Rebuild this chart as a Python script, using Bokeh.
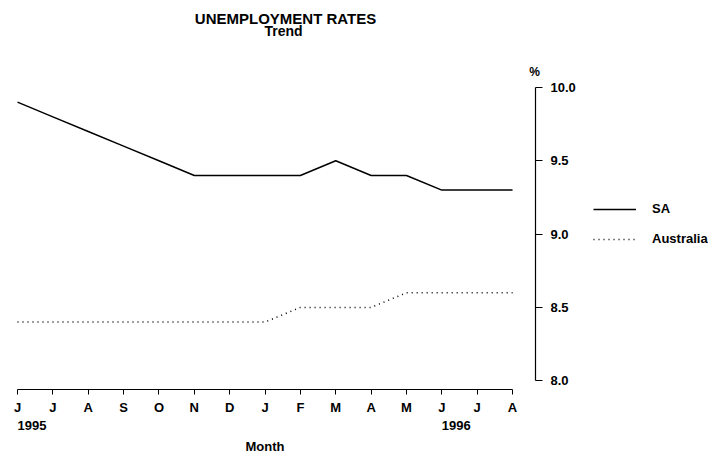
from bokeh.plotting import figure
from bokeh.models import (FixedTicker, LinearAxis, Range1d, Legend, LegendItem,
                          ColumnDataSource, Label)
from bokeh.embed import file_html
from bokeh.resources import INLINE

# ---- data ----
months = ["J", "J", "A", "S", "O", "N", "D", "J", "F", "M", "A", "M", "J", "J", "A"]
years = ["1995", "1996"]
year_pos = [0, 12]
sa = [9.9, 9.8, 9.7, 9.6, 9.5, 9.4, 9.4, 9.4, 9.4, 9.5, 9.4, 9.4, 9.3, 9.3, 9.3]
australia = [8.4, 8.4, 8.4, 8.4, 8.4, 8.4, 8.4, 8.4, 8.5, 8.5, 8.5, 8.6, 8.6, 8.6, 8.6]
y_ticks = [8.0, 8.5, 9.0, 9.5, 10.0]

FONT = "Liberation Sans"
INK = "black"
W, H = 708, 455
# layout (pixels): where month 0 and the 10.0 line sit, and scale
X0_PX, PX_PER_MONTH = 17, 35.36
Y10_PX, PX_PER_UNIT = 87, 146.6
x_start = -X0_PX / PX_PER_MONTH
x_end = (W - X0_PX) / PX_PER_MONTH
y_end = 10 + Y10_PX / PX_PER_UNIT
y_start = 10 - (H - Y10_PX) / PX_PER_UNIT
x_axis_y = 7.94          # where the month axis sits (a little below 8.0)
y_axis_x = 14.65         # where the % axis sits (right of the last month)

x = list(range(len(months)))
src = ColumnDataSource(dict(x=x, sa=sa, aus=australia))

p = figure(width=W, height=H, output_backend="svg", toolbar_location=None,
           x_range=Range1d(x_start, x_end), y_range=Range1d(y_start, y_end),
           x_axis_location=None, y_axis_location=None,
           min_border=0)
p.title = None
p.outline_line_color = None
p.xgrid.visible = False
p.ygrid.visible = False
p.background_fill_color = "white"
p.border_fill_color = "white"

r_sa = p.line("x", "sa", source=src, line_color=INK, line_width=1.5)
r_au = p.line("x", "aus", source=src, line_color=INK, line_width=1.5,
              line_dash="1 4")


def style_labels(ax):
    ax.major_label_text_font = FONT
    ax.major_label_text_font_size = "13px"
    ax.major_label_text_font_style = "bold"
    ax.major_label_text_color = INK
    ax.minor_tick_line_color = None
    ax.axis_line_color = INK
    ax.major_tick_line_color = INK


# month axis
xa = LinearAxis(ticker=FixedTicker(ticks=x), bounds=(0, len(months) - 1),
                fixed_location=x_axis_y, axis_label="Month",
                major_label_overrides={i: m for i, m in enumerate(months)})
style_labels(xa)
xa.major_tick_in = 0
xa.major_tick_out = 5
xa.axis_line_width = 1.2
xa.major_label_standoff = 6
xa.axis_label_text_font = FONT
xa.axis_label_text_font_size = "13px"
xa.axis_label_text_font_style = "bold"
xa.axis_label_text_color = INK
xa.axis_label_standoff = 20
p.add_layout(xa, "below")

# % axis (right)
ya = LinearAxis(ticker=FixedTicker(ticks=y_ticks), bounds=(8.0, 10.0),
                fixed_location=y_axis_x,
                major_label_overrides={v: f"{v:.1f}" for v in y_ticks})
style_labels(ya)
ya.major_tick_in = 0
ya.major_tick_out = 7
ya.axis_line_width = 1.2
ya.major_label_standoff = 8
p.add_layout(ya, "right")

# year labels under the first month of each year
for yr, pos in zip(years, year_pos):
    p.add_layout(Label(x=pos, y=H - 425, x_units="data", y_units="screen", text=yr,
                       text_align="left", text_baseline="middle", text_color=INK,
                       text_font=FONT, text_font_size="13px", text_font_style="bold"))

# unit label
p.add_layout(Label(x=534, y=H - 71, x_units="screen", y_units="screen", text="%",
                   text_align="center", text_baseline="middle", text_color=INK,
                   text_font=FONT, text_font_size="12px", text_font_style="bold"))

# titles
p.add_layout(Label(x=285, y=H - 18, x_units="screen", y_units="screen",
                   text="UNEMPLOYMENT RATES", text_align="center", text_baseline="middle",
                   text_color=INK,
                   text_font=FONT, text_font_size="15px", text_font_style="bold"))
p.add_layout(Label(x=283, y=H - 30, x_units="screen", y_units="screen",
                   text="Trend", text_align="center", text_baseline="middle",
                   text_color=INK,
                   text_font=FONT, text_font_size="14px", text_font_style="bold"))

legend = Legend(items=[LegendItem(label="SA", renderers=[r_sa]),
                       LegendItem(label="Australia", renderers=[r_au])],
                location=(593, H - 246), padding=0, margin=0, spacing=15,
                glyph_width=43, glyph_height=14, label_height=14, label_standoff=16,
                border_line_color=None, background_fill_alpha=0,
                label_text_font=FONT, label_text_font_size="13px",
                label_text_font_style="bold", label_text_color=INK)
p.add_layout(legend, "center")

open("out.html", "w").write(file_html(p, INLINE))
